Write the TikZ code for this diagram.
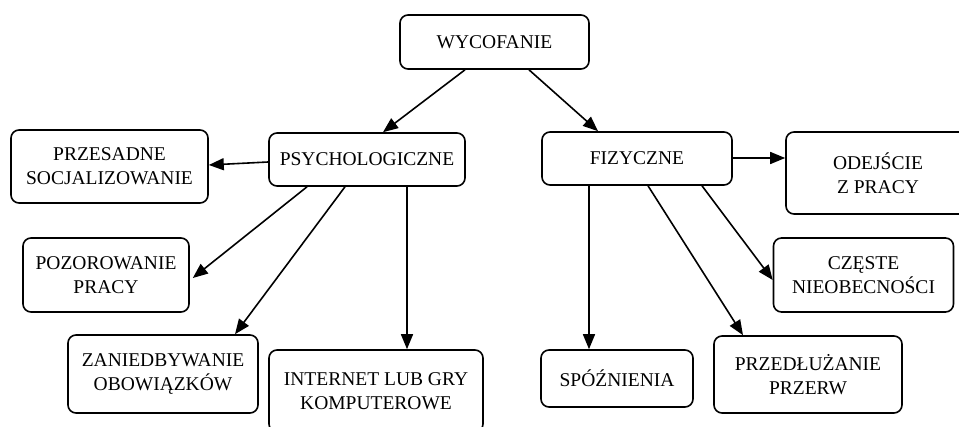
\documentclass[tikz,border=0pt]{standalone}
\usepackage{fontspec}
\setmainfont{Liberation Serif}
\usetikzlibrary{arrows.meta,calc}
\begin{document}
\begin{tikzpicture}[x=1pt,y=-1pt,
  box/.style={draw, rounded corners=8pt, line width=1.6pt, align=center,
    inner sep=0pt, font=\fontsize{19.5}{24}\selectfont},
  link/.style={line width=1.6pt, -{Triangle[length=15pt,width=12pt]}}]
\useasboundingbox (0,0) rectangle (959,427);
\clip (0,0) rectangle (959,427);

% top level
\node[box, minimum width=189pt, minimum height=54pt] (wyc) at (494.5,42) {WYCOFANIE};

% second level
\node[box, minimum width=196pt, minimum height=53pt] (psy) at (367,159.5) {PSYCHOLOGICZNE};
\node[box, minimum width=190pt, minimum height=53pt] (fiz) at (637,158.5) {FIZYCZNE};

% psychological forms
\node[box, minimum width=197pt, minimum height=73pt] (prz) at (109.5,166.5) {PRZESADNE\\SOCJALIZOWANIE};
\node[box, minimum width=166pt, minimum height=74pt] (poz) at (106,275) {POZOROWANIE\\PRACY};
\node[box, minimum width=190pt, minimum height=78pt] (zan) at (163,374) {ZANIEDBYWANIE\\OBOWIĄZKÓW};
\node[box, minimum width=214pt, minimum height=82pt] (int) at (376,391) {INTERNET LUB GRY\\KOMPUTEROWE};

% physical forms
\node[box, minimum width=184pt, minimum height=82pt] (ode) at (878,173) {ODEJŚCIE\\Z PRACY};
\node[box, minimum width=180pt, minimum height=74pt] (cze) at (863.5,275) {CZĘSTE\\NIEOBECNOŚCI};
\node[box, minimum width=188pt, minimum height=77pt] (prd) at (808,374.5) {PRZEDŁUŻANIE\\PRZERW};
\node[box, minimum width=152pt, minimum height=57pt] (spo) at (617,378.5) {SPÓŹNIENIA};

% connectors
\draw[link] ($(wyc.south)+(-29.5,0)$) -- ($(psy.north)+(16,0)$);
\draw[link] ($(wyc.south)+(34.5,0)$) -- ($(fiz.north)+(-39,0)$);

\draw[link] ($(psy.west)+(0,2.5)$) -- ($(prz.east)+(0,-1.5)$);
\draw[link] ($(psy.south)+(-60,0)$) -- ($(poz.east)+(3,3)$);
\draw[link] ($(psy.south)+(-22,0)$) -- ($(zan.north)+(72,0)$);
\draw[link] ($(psy.south)+(40,0)$) -- ($(int.north)+(31,0)$);

\draw[link] ($(fiz.east)+(0,-0.5)$) -- ($(ode.west)+(0,-15)$);
\draw[link] ($(fiz.south)+(65,0)$) -- ($(cze.west)+(0,5)$);
\draw[link] ($(fiz.south)+(11,0)$) -- ($(prd.north)+(-65,0)$);
\draw[link] ($(fiz.south)+(-48,0)$) -- ($(spo.north)+(-28,0)$);
\end{tikzpicture}
\end{document}
